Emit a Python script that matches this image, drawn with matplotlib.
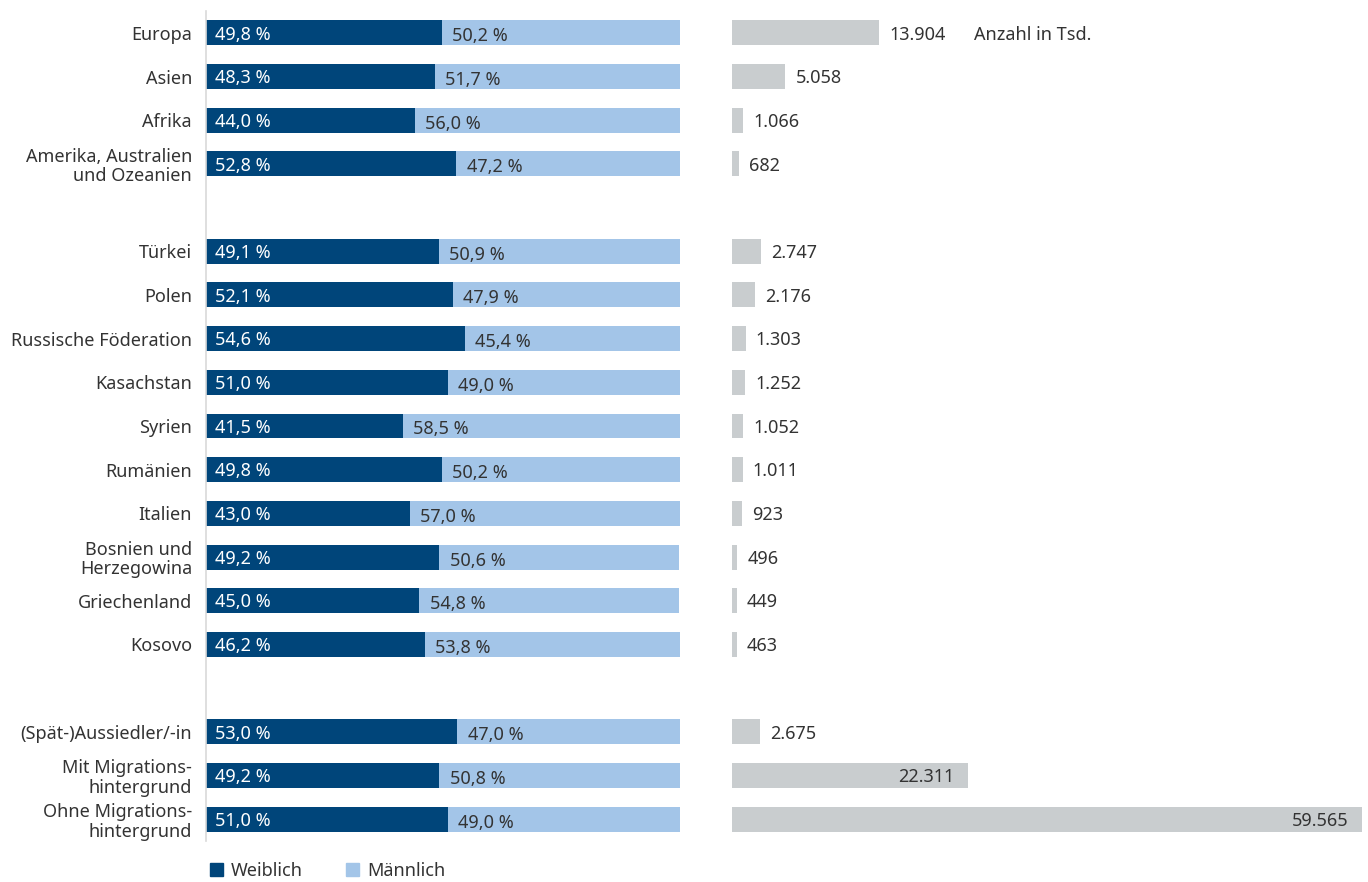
import matplotlib
matplotlib.use("Agg")
import matplotlib.pyplot as plt
from matplotlib.patches import Patch
from matplotlib.transforms import blended_transform_factory

plt.rcParams["font.family"] = ["Noto Sans", "DejaVu Sans"]

# rows top to bottom, None = empty gap row
labels = [
    "Europa", "Asien", "Afrika", "Amerika, Australien\nund Ozeanien", None,
    "Türkei", "Polen", "Russische Föderation", "Kasachstan", "Syrien",
    "Rumänien", "Italien", "Bosnien und\nHerzegowina", "Griechenland", "Kosovo", None,
    "(Spät-)Aussiedler/-in", "Mit Migrations-\nhintergrund", "Ohne Migrations-\nhintergrund",
]
weiblich = [49.8, 48.3, 44.0, 52.8, None,
            49.1, 52.1, 54.6, 51.0, 41.5, 49.8, 43.0, 49.2, 45.0, 46.2, None,
            53.0, 49.2, 51.0]
maennlich = [50.2, 51.7, 56.0, 47.2, None,
             50.9, 47.9, 45.4, 49.0, 58.5, 50.2, 57.0, 50.6, 54.8, 53.8, None,
             47.0, 50.8, 49.0]
anzahl = [13904, 5058, 1066, 682, None,
          2747, 2176, 1303, 1252, 1052, 1011, 923, 496, 449, 463, None,
          2675, 22311, 59565]

DARK = "#00457a"
LIGHT = "#a3c5e8"
GREY = "#c9cdcf"
TEXT = "#333333"
FS = 13
H = 0.57


def fmt_pct(v):
    return f"{v:.1f}".replace(".", ",") + " %"


def fmt_num(v):
    return f"{v:,}".replace(",", ".")


fig = plt.figure(figsize=(13.68, 8.82), dpi=100)
ax = fig.add_axes([206 / 1368, 1 - 841 / 882, 474 / 1368, 830 / 882])
ax2 = fig.add_axes([732 / 1368, 1 - 841 / 882, 630 / 1368, 830 / 882])

rows = [i for i, lab in enumerate(labels) if lab is not None]
w = [weiblich[i] for i in rows]
m = [maennlich[i] for i in rows]
n = [anzahl[i] for i in rows]

ax.barh(rows, w, height=H, color=DARK)
ax.barh(rows, m, left=w, height=H, color=LIGHT)
for y, wv, mv in zip(rows, w, m):
    ax.text(1.9, y + 0.04, fmt_pct(wv), color="white", va="center", ha="left", fontsize=FS)
    ax.text(wv + 2.2, y + 0.08, fmt_pct(mv), color=TEXT, va="center", ha="left", fontsize=FS)

ax.set_xlim(0, 100)
ax.set_ylim(18.5, -0.5)
ax.set_yticks(rows)
ax.set_yticklabels([labels[i] for i in rows], fontsize=FS, color=TEXT, linespacing=1.1)
ax.tick_params(axis="y", length=0, pad=10)
ax.set_xticks([])
for s in ["top", "right", "bottom"]:
    ax.spines[s].set_visible(False)
ax.spines["left"].set_color("#d9d9d9")
ax.spines["left"].set_linewidth(1.2)

xmax = 59565
ax2.barh(rows, n, height=H, color=GREY)
ax2.set_xlim(0, xmax)
ax2.set_ylim(18.5, -0.5)
ax2.axis("off")
pad = xmax * 10 / 630
for y, v in zip(rows, n):
    if v > 20000:
        ax2.text(v - pad * 1.4, y + 0.04, fmt_num(v), color=TEXT, va="center", ha="right", fontsize=FS)
    else:
        ax2.text(v + pad, y + 0.04, fmt_num(v), color=TEXT, va="center", ha="left", fontsize=FS)

tr = blended_transform_factory(ax2.transAxes, ax2.transData)
ax2.text((974 - 732) / 630, 0.04, "Anzahl in Tsd.", transform=tr, color=TEXT,
         va="center", ha="left", fontsize=FS)

handles = [Patch(color=DARK, label="Weiblich"), Patch(color=LIGHT, label="Männlich")]
fig.legend(handles=handles, loc="center left", bbox_to_anchor=(194 / 1368, 1 - 871 / 882),
           ncol=2, frameon=False, fontsize=FS, handlelength=0.7, handleheight=0.7,
           handletextpad=0.45, columnspacing=2.4, labelcolor=TEXT)

fig.savefig("out.png", dpi=100)
